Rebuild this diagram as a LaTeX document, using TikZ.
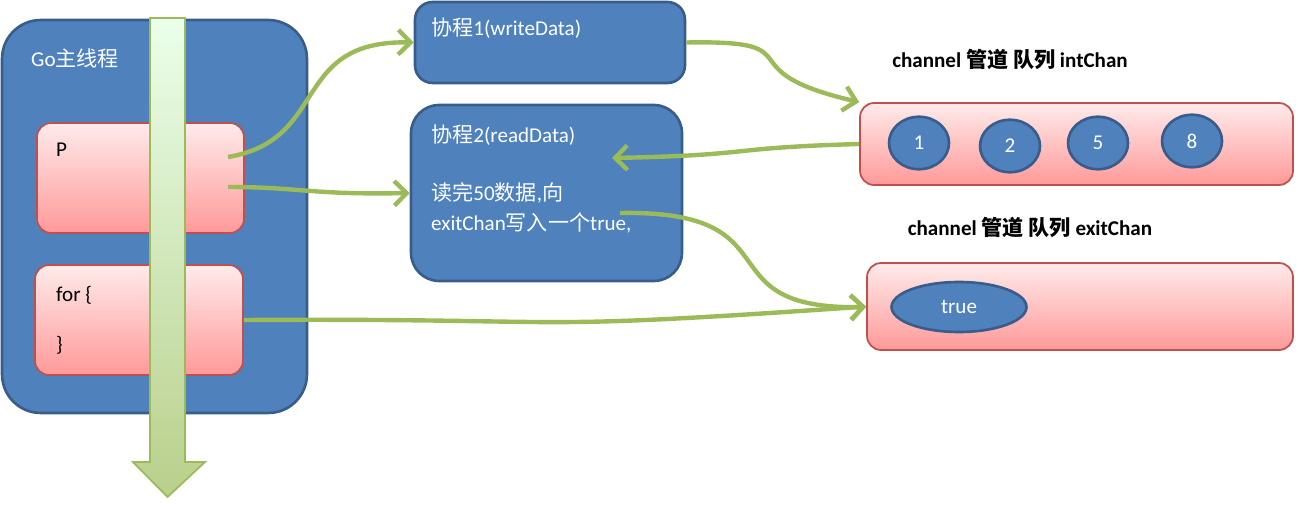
\documentclass[tikz,border=0pt]{standalone}
\usepackage{fontspec}
\setmainfont{Carlito}
\newfontfamily\cjk{Noto Sans CJK SC}
\usetikzlibrary{arrows.meta,shapes.geometric,calc}
\definecolor{goblue}{HTML}{4F81BD}
\definecolor{goedge}{HTML}{385D8A}
\definecolor{pinkedge}{HTML}{C0504D}
\definecolor{flowgreen}{HTML}{9BBB59}
\tikzset{
  bluebox/.style={draw=goedge, line width=1.5pt, fill=goblue, rounded corners=10pt, text=white},
  pinkbox/.style={draw=pinkedge, line width=1pt, rounded corners=8pt, top color=red!8, bottom color=red!40},
  dot/.style={ellipse, draw=goedge, line width=1.5pt, fill=goblue, font=\large},
  flow/.style={draw=flowgreen, line width=2.5pt, -{Straight Barb[length=7pt,width=14pt,line width=2.5pt]}},
  txt/.style={anchor=west, text=white, font=\large}
}
\begin{document}
\begin{tikzpicture}[x=0.02cm,y=-0.02cm]
\useasboundingbox (0,0) rectangle (1300,509);
% main thread
\node[bluebox, rounded corners=22pt, minimum width=6.1cm, minimum height=7.86cm] (main) at (154.5,216.5) {};
\node[txt] (gotitle) at (25,58) {Go{\cjk 主线程}};
\node[pinkbox, minimum width=4.14cm, minimum height=2.2cm] (P) at (140.5,178) {};
\node[anchor=west, font=\large] (plabel) at (50,150) {P};
\node[pinkbox, minimum width=4.16cm, minimum height=2.2cm] (loop) at (139,320) {};
\node[anchor=west, font=\large] (loopopen) at (50,295) {for \{};
\node[anchor=west, font=\large] (loopclose) at (50,345) {\}};
% time line
\draw[flowgreen, line width=1pt, top color=green!8!white, bottom color=flowgreen!70!white]
  (150,18) -- (185,18) -- (185,462) -- (205,462) -- (167.5,497) -- (133,462) -- (150,462) -- cycle;
% goroutines
\node[bluebox, minimum width=5.4cm, minimum height=1.62cm] (writer) at (550,42.5) {};
\node[txt] at (425,28) {{\cjk 协程}1(writeData)};
\node[bluebox, rounded corners=16pt, minimum width=5.42cm, minimum height=3.52cm] (reader) at (546.5,193) {};
\node[txt] at (425,135) {{\cjk 协程}2(readData)};
\node[txt] at (425,193) {{\cjk 读完}50{\cjk 数据},{\cjk 向}};
\node[txt] at (425,223) {exitChan{\cjk 写入一个}true,};
% channels
\node[font=\large\bfseries] (introw) at (1010,60) {channel {\cjk 管道 队列} intChan};
\node[pinkbox, minimum width=8.66cm, minimum height=1.64cm] (intchan) at (1076.5,144) {};
\foreach \v/\x/\y in {1/919/143, 2/1010/146, 5/1098/143, 8/1192/141}
  \node[dot, minimum width=1.2cm, minimum height=1.05cm, text=white] (n\v) at (\x,\y) {\v};
\node[font=\large\bfseries] (exitrow) at (1030,228) {channel {\cjk 管道 队列} exitChan};
\node[pinkbox, minimum width=8.52cm, minimum height=1.74cm] (exitchan) at (1080,306.5) {};
\node[dot, minimum width=2.7cm, minimum height=1cm, text=white] (flag) at (959,307) {true};
% flows
\coordinate (pa) at (228,157);
\coordinate (pb) at (228,187);
\coordinate (rd) at (620,213);
\draw[flow] (pa) .. controls (330,140) and (290,40) .. (writer.west);
\draw[flow] (pb) .. controls (300,187) and (310,195) .. (reader.west);
\draw[flow] (writer.east) .. controls (820,40) and (720,70) .. (intchan.north west);
\draw[flow] (intchan.west) .. controls (720,148) and (760,155) .. (612,158);
\draw[flow] (rd) .. controls (800,210) and (700,310) .. (flag.west -| exitchan.west);
\draw[flow] (loop.east) .. controls (600,318) and (500,332) .. (exitchan.west);
\end{tikzpicture}
\end{document}
